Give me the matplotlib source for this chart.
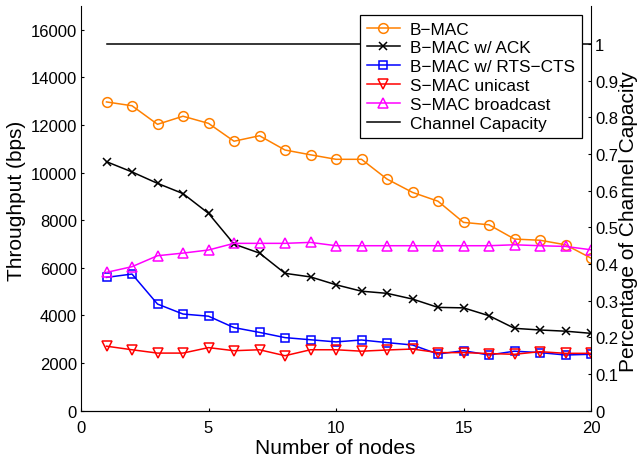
import matplotlib
matplotlib.use("Agg")
import matplotlib.pyplot as plt

plt.rcParams['font.family'] = ['Liberation Sans', 'DejaVu Sans']

# number of nodes
nodes = list(range(1, 21))

# throughput (bps)
bmac = [12970, 12810, 12030, 12370, 12070, 11320, 11550, 10950, 10750, 10560,
        10560, 9730, 9170, 8800, 7910, 7810, 7210, 7160, 6970, 6410]
bmac_ack = [10460, 10030, 9550, 9120, 8290, 7000, 6620, 5770, 5620, 5290,
            5020, 4930, 4690, 4340, 4320, 3990, 3460, 3390, 3340, 3250]
bmac_rts = [5600, 5740, 4480, 4060, 3970, 3490, 3290, 3070, 2980, 2890,
            2970, 2860, 2760, 2380, 2520, 2340, 2500, 2440, 2340, 2370]
smac_uni = [2710, 2560, 2420, 2420, 2650, 2520, 2560, 2310, 2560, 2560,
            2500, 2550, 2590, 2440, 2440, 2400, 2370, 2480, 2410, 2410]
smac_bc = [5810, 6050, 6510, 6620, 6750, 7030, 7030, 7030, 7070, 6930,
           6930, 6930, 6930, 6930, 6930, 6930, 6970, 6930, 6900, 6760]
capacity = 15400

fig = plt.figure(figsize=(6.4, 4.64), dpi=100)
ax = fig.add_axes([81 / 640, 1 - 411.7 / 464, 510 / 640, 404.7 / 464])

lw = 1.1
ax.plot(nodes, bmac, color='#ff8000', marker='o', mfc='none', ms=7, mew=1.1, lw=lw, label='B−MAC')
ax.plot(nodes, bmac_ack, color='black', marker='x', ms=6, mew=1.1, lw=lw, label='B−MAC w/ ACK')
ax.plot(nodes, bmac_rts, color='#0000ff', marker='s', mfc='none', ms=6, mew=1.1, lw=lw, label='B−MAC w/ RTS−CTS')
ax.plot(nodes, smac_uni, color='#ff0000', marker='v', mfc='none', ms=7, mew=1.1, lw=lw, label='S−MAC unicast')
ax.plot(nodes, smac_bc, color='#ff00ff', marker='^', mfc='none', ms=7, mew=1.1, lw=lw, label='S−MAC broadcast')
ax.plot([nodes[0], nodes[-1]], [capacity, capacity], color='black', lw=lw, label='Channel Capacity')

ax.set_xlim(0, 20)
ax.set_ylim(0, 17000)
ax.set_xticks([0, 5, 10, 15, 20])
ax.set_yticks(range(0, 16001, 2000))

ax2 = ax.twinx()
ax2.set_ylim(0, 17000 / capacity)
ax2.set_yticks([0, 0.1, 0.2, 0.3, 0.4, 0.5, 0.6, 0.7, 0.8, 0.9, 1])
ax2.set_yticklabels(['0', '0.1', '0.2', '0.3', '0.4', '0.5', '0.6', '0.7', '0.8', '0.9', '1'])

for a in (ax, ax2):
    a.spines['top'].set_visible(False)
    for s in a.spines.values():
        s.set_linewidth(0.8)
    a.tick_params(direction='in', length=2.5, width=0.8, labelsize=12, pad=3)
ax.tick_params(axis='x', pad=7)
ax.spines['right'].set_visible(False)
ax2.spines['left'].set_visible(False)

ax.set_xlabel('Number of nodes', fontsize=15)
ax.set_ylabel('Throughput (bps)', fontsize=15)
ax2.set_ylabel('Percentage of Channel Capacity', fontsize=15)
ax.xaxis.set_label_coords(0.499, -0.092)
ax.xaxis.label.set_va('center')
ax.yaxis.set_label_coords(-0.127, 0.52)
ax.yaxis.label.set_va('center')
ax2.yaxis.set_label_coords(1.0745, 0.471)
ax2.yaxis.label.set_va('center')

leg = ax.legend(loc='upper right', bbox_to_anchor=(0.982, 0.9785), borderaxespad=0,
                fontsize=12.4, fancybox=False, framealpha=1, edgecolor='black',
                labelspacing=0.22, handlelength=1.9, handletextpad=0.6, borderpad=0.4)
leg.get_frame().set_linewidth(0.9)
leg.set_zorder(10)

fig.savefig('out.png', dpi=100)
